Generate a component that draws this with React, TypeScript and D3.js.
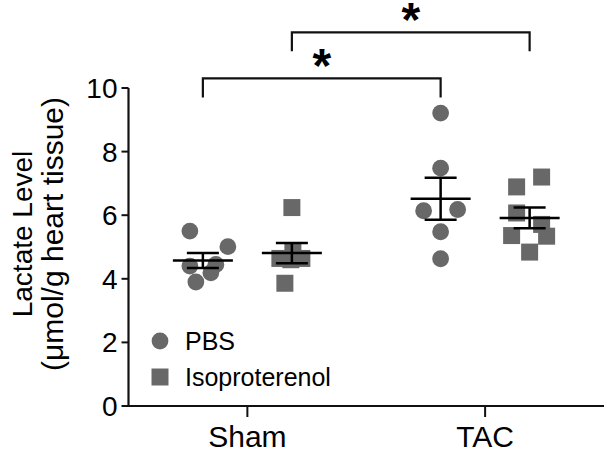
import React from "react";
import * as d3 from "d3";

const categories = ["Sham", "TAC"];
const seriesNames = ["PBS", "Isoproterenol"];
const yTicks = [0, 2, 4, 6, 8, 10];

// values
const shamPBS = [5.5, 5.01, 4.4, 4.45, 4.19, 3.9];
const shamPBSJitter = [-13, 25, -13, 13, 8, -7];
const shamIso = [6.24, 4.87, 4.64, 4.64, 4.6, 3.86];
const shamIsoJitter = [0, 1, -12, 10, -1, -7];
const tacPBS = [9.21, 7.48, 6.14, 6.18, 5.48, 4.63];
const tacPBSJitter = [0, 0, -17, 17, 0, 0];
const tacIso = [7.2, 6.89, 6.07, 5.71, 5.36, 5.34, 4.84];
const tacIsoJitter = [12, -13, -13, 12, -18, 17, 0];

const groups = [
  { cat: "Sham", series: "PBS", values: shamPBS, jitter: shamPBSJitter },
  { cat: "Sham", series: "Isoproterenol", values: shamIso, jitter: shamIsoJitter },
  { cat: "TAC", series: "PBS", values: tacPBS, jitter: tacPBSJitter },
  { cat: "TAC", series: "Isoproterenol", values: tacIso, jitter: tacIsoJitter },
];

// significance brackets: [group a, group b, level]
const brackets = [
  { a: 0, b: 2, level: 10.3, label: "*" },
  { a: 1, b: 3, level: 11.75, label: "*" },
];

const W = 610;
const H = 454;
const FONT = "'Liberation Sans', Arial, Helvetica, sans-serif";
const GREY = "#686868";

export default function App() {
  const x0 = 128.5;
  const x1 = 604;
  const y = d3.scaleLinear().domain([0, 10]).range([406, 88]);
  const xCat = d3.scalePoint<string>().domain(categories).range([x0, x1]).padding(0.5);
  const xSer = d3.scalePoint<string>().domain(seriesNames).range([-44.5, 44.5]);
  const gx = (g: { cat: string; series: string }) => (xCat(g.cat) as number) + (xSer(g.series) as number);

  const circle = d3.symbol().type(d3.symbolCircle).size(Math.PI * 8.4 * 8.4);
  const square = d3.symbol().type(d3.symbolSquare).size(17 * 17);
  const shape = (s: string) => (s === "PBS" ? circle() : square()) as string;

  return (
    <svg width={W} height={H} style={{ position: "absolute", left: 0, top: 0, background: "#fff" }} fontFamily={FONT}>
      {/* y axis */}
      <line x1={x0} x2={x0} y1={y(10)} y2={y(0) + 1} stroke="#111" strokeWidth={2.2} />
      {yTicks.map((t) => (
        <g key={t}>
          <line x1={x0 - 7} x2={x0} y1={y(t)} y2={y(t)} stroke="#111" strokeWidth={2} />
          <text x={x0 - 11} y={y(t)} dy="0.36em" textAnchor="end" fontSize={28} fill="#000">
            {t}
          </text>
        </g>
      ))}
      {/* x axis */}
      <line x1={x0 - 1} x2={x1} y1={y(0)} y2={y(0)} stroke="#111" strokeWidth={2.2} />
      {categories.map((c) => (
        <g key={c}>
          <line x1={xCat(c)} x2={xCat(c)} y1={y(0)} y2={y(0) + 11} stroke="#111" strokeWidth={2} />
          <text x={xCat(c)} y={447} textAnchor="middle" fontSize={30} fill="#000">
            {c}
          </text>
        </g>
      ))}
      {/* y title */}
      <g transform={`translate(32,234) rotate(-90)`}>
        <text textAnchor="middle" fontSize={28} fill="#000">Lactate Level</text>
      </g>
      <g transform={`translate(63,234) rotate(-90)`}>
        <text textAnchor="middle" fontSize={30} fill="#000">(μmol/g heart tissue)</text>
      </g>
      {/* points */}
      {groups.map((g, gi) =>
        g.values.map((v, i) => (
          <path
            key={`${gi}-${i}`}
            d={shape(g.series)}
            transform={`translate(${gx(g) + g.jitter[i]},${y(v)})`}
            fill={GREY}
          />
        ))
      )}
      {/* mean and SEM */}
      {groups.map((g, gi) => {
        const m = d3.mean(g.values) as number;
        const sem = (d3.deviation(g.values) as number) / Math.sqrt(g.values.length);
        const cx = gx(g);
        return (
          <g key={`m${gi}`} stroke="#000" strokeWidth={2.5}>
            <line x1={cx - 30} x2={cx + 30} y1={y(m)} y2={y(m)} />
            <line x1={cx} x2={cx} y1={y(m + sem)} y2={y(m - sem)} />
            <line x1={cx - 16} x2={cx + 16} y1={y(m + sem)} y2={y(m + sem)} />
            <line x1={cx - 16} x2={cx + 16} y1={y(m - sem)} y2={y(m - sem)} />
          </g>
        );
      })}
      {/* brackets */}
      {brackets.map((b, bi) => {
        const xa = gx(groups[b.a]);
        const xb = gx(groups[b.b]);
        const yl = y(b.level);
        return (
          <g key={`b${bi}`}>
            <path
              d={`M${xa},${yl + 19}V${yl}H${xb}V${yl + 19}`}
              fill="none"
              stroke="#111"
              strokeWidth={2.2}
            />
            <text x={(xa + xb) / 2} y={yl + 4} textAnchor="middle" fontSize={48} fontWeight="bold" fill="#000">
              {b.label}
            </text>
          </g>
        );
      })}
      {/* legend */}
      {seriesNames.map((s, i) => (
        <g key={s} transform={`translate(160,${341 + i * 36})`}>
          <path d={shape(s)} fill={GREY} />
          <text x={25} y={0} dy="0.36em" fontSize={25} fill="#000">
            {s}
          </text>
        </g>
      ))}
    </svg>
  );
}
